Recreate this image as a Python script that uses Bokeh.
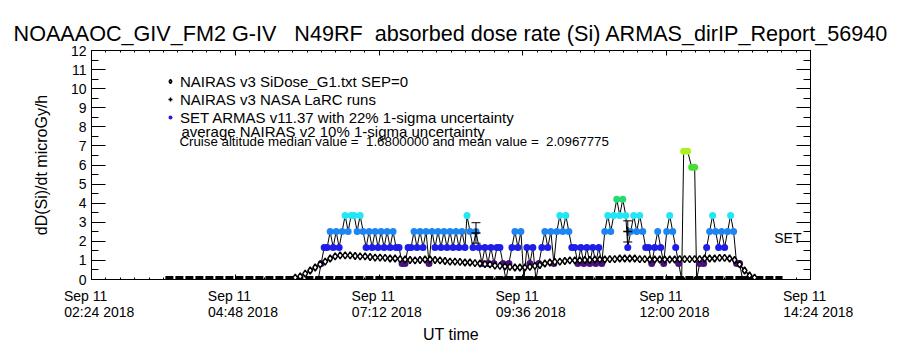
from bokeh.plotting import figure
from bokeh.models import (Range1d, FixedTicker, LinearAxis, Legend, LegendItem, Label,
                          ColumnDataSource, Whisker, TeeHead)
from bokeh.embed import file_html
from bokeh.resources import INLINE

FONT = "Liberation Sans"
NB = "\u00a0"

# ---------------- data (time = minutes of day UT, Sep 11 2018) ----------------
x_tick_minutes = [144, 288, 432, 576, 720, 864]
x_tick_dates = ["Sep 11", "Sep 11", "Sep 11", "Sep 11", "Sep 11", "Sep 11"]
x_tick_times = ["02:24 2018", "04:48 2018", "07:12 2018", "09:36 2018", "12:00 2018", "14:24 2018"]
y_ticks = [0, 1, 2, 3, 4, 5, 6, 7, 8, 9, 10, 11, 12]

# NAIRAS v3 SiDose (diamonds)
nairas_t = [348, 353, 358, 363, 368, 373, 378, 383, 388, 393, 398, 403, 408, 413, 418, 423,
            428, 433, 438, 443, 448, 453, 458, 463, 468, 473, 478, 483, 488, 493, 498, 503,
            508, 513, 518, 523, 528, 533, 538, 543, 548, 553, 558, 563, 568, 573, 578, 583,
            588, 593, 598, 603, 608, 613, 618, 623, 628, 633, 638, 643, 648, 653, 658, 663,
            668, 673, 678, 683, 688, 693, 698, 703, 708, 713, 718, 723, 728, 733, 738, 743,
            748, 753, 758, 763, 768, 773, 778, 783, 788, 793, 798, 803, 808]
nairas_dose = [0.10, 0.16, 0.31, 0.47, 0.63, 0.79, 0.94, 1.10, 1.21, 1.26, 1.26, 1.26, 1.23,
               1.21, 1.21, 1.18, 1.15, 1.15, 1.13, 1.10, 1.10, 1.07, 1.05, 1.02, 1.00, 1.02,
               1.05, 1.05, 1.02, 1.00, 0.97, 0.94, 0.94, 0.92, 0.89, 0.89, 0.86, 0.84, 0.81,
               0.79, 0.73, 0.71, 0.68, 0.66, 0.63, 0.63, 0.63, 0.66, 0.71, 0.76, 0.84, 0.89,
               0.92, 0.94, 0.97, 1.00, 1.00, 1.00, 1.02, 1.02, 1.05, 1.05, 1.05, 1.07, 1.07,
               1.10, 1.10, 1.10, 1.10, 1.07, 1.07, 1.05, 1.05, 1.05, 1.05, 1.05, 1.05, 1.07,
               1.07, 1.07, 1.07, 1.07, 1.10, 1.10, 1.10, 1.13, 1.13, 1.10, 1.02, 0.79, 0.47,
               0.21, 0.10]

# SET ARMAS v11.37 dose rate
armas_t = [371, 374, 377, 380, 383, 386, 389, 392, 395, 398, 401, 404, 407, 410, 413, 416,
           419, 422, 425, 428, 431, 434, 437, 440, 443, 446, 449, 452, 455, 458, 461, 464,
           467, 470, 473, 476, 479, 482, 485, 488, 491, 494, 497, 500, 503, 506, 509, 512,
           515, 518, 520, 523, 526, 529, 532, 535, 538, 541, 544, 547, 550, 553, 556, 559,
           562, 565, 568, 571, 574, 577, 580, 583, 586, 589, 592, 595, 598, 601, 604, 607,
           610, 613, 616, 619, 622, 625, 628, 631, 634, 637, 640, 643, 646, 649, 652, 655,
           658, 661, 664, 667, 670, 673, 676, 679, 681, 684, 687, 690, 693, 696, 699, 702,
           705, 708, 711, 714, 717, 720, 723, 726, 729, 732, 735, 737, 741, 745, 748, 750,
           753, 757, 760, 763, 766, 769, 772, 775, 778, 781, 784, 787, 790, 793, 796, 799]
armas_dose = [0, 0.84, 1.68, 1.68, 2.52, 1.68, 2.52, 1.68, 2.52, 3.36, 2.52, 3.36, 3.36, 2.52,
              3.36, 2.52, 1.68, 2.52, 1.68, 2.52, 1.68, 2.52, 1.68, 2.52, 1.68, 2.52, 1.68,
              1.68, 0.84, 0.84, 1.68, 1.68, 2.52, 1.68, 2.52, 1.68, 2.52, 0.84, 2.52, 1.68,
              2.52, 1.68, 2.52, 1.68, 2.52, 1.68, 2.52, 1.68, 2.52, 1.68, 3.36, 2.52, 1.68,
              2.52, 1.68, 0.84, 1.68, 0.84, 1.68, 0.84, 1.68, 1.68, 0.84, 0, 0.84, 1.68, 2.52,
              1.68, 2.52, 0, 1.68, 0.84, 1.68, 0, 0.84, 1.68, 2.52, 1.68, 2.52, 0.84, 2.52,
              3.36, 2.52, 3.36, 2.52, 1.68, 1.68, 0.84, 1.68, 0.84, 1.68, 0.84, 1.68, 0.84,
              1.68, 0.84, 2.52, 3.36, 2.52, 3.36, 4.2, 3.36, 4.2, 3.36, 1.68, 2.52, 3.36, 2.52,
              3.36, 2.52, 1.68, 1.68, 0.84, 1.68, 2.52, 1.68, 0.84, 2.52, 3.36, 2.52, 1.68,
              0.84, 0, 6.72, 6.72, 5.88, 5.88, 0, 0.84, 0.84, 1.68, 2.52, 3.36, 2.52, 1.68,
              2.52, 1.68, 2.52, 3.36, 2.52, 0.84, 0.84, 0, 0]

# NAIRAS v3 NASA LaRC runs with 22% 1-sigma uncertainty
larc_t = [529, 681]
larc_dose = [2.44, 2.52]
larc_unc = 0.22

# ground / on-runway record along the bottom
ground_t = [218, 836]
ground_dose = [0.08, 0.08]

level_colors = {0.0: "#000000", 0.84: "#4b1080", 1.68: "#1e1ee8", 2.52: "#1e86f2",
                3.36: "#20e6f6", 4.2: "#22dc6e", 5.88: "#44e034", 6.72: "#aaf024"}

title_txt = ("NOAAAOC_GIV_FM2 G-IV" + NB * 3 + "N49RF" + NB * 2 +
             "absorbed dose rate (Si) ARMAS_dirIP_Report_56940")
median_txt = ("Cruise altitude median value =" + NB * 2 + "1.6800000 and mean value =" +
              NB * 2 + "2.0967775")

# ---------------- figure ----------------
p = figure(width=900, height=350, output_backend="svg", toolbar_location=None,
           x_range=Range1d(144, 864), y_range=Range1d(0, 12),
           min_border_left=91, min_border_right=90, min_border_top=50, min_border_bottom=71,
           title=title_txt)
p.title.text_font = FONT
p.title.text_font_size = "21.6px"
p.title.text_font_style = "normal"
p.title.align = "center"
p.title.text_color = "black"
p.grid.visible = False
p.outline_line_color = "black"
p.outline_line_width = 1
p.background_fill_color = "white"
p.border_fill_color = "white"

x_minor = [144 + 14.4 * i for i in range(51)]
y_minor = [0.5 * i for i in range(25)]
xt = FixedTicker(ticks=x_tick_minutes, minor_ticks=x_minor)
yt = FixedTicker(ticks=y_ticks, minor_ticks=y_minor)


def style_axis(ax, major_in, minor_in):
    ax.axis_line_color = "black"
    ax.major_tick_line_color = "black"
    ax.minor_tick_line_color = "black"
    ax.major_tick_in = major_in
    ax.major_tick_out = 0
    ax.minor_tick_in = minor_in
    ax.minor_tick_out = 0
    ax.major_label_text_color = "black"
    ax.major_label_text_font = FONT
    ax.major_label_text_font_size = "14px"
    ax.axis_label_text_font = FONT
    ax.axis_label_text_font_style = "normal"
    ax.axis_label_text_color = "black"


def two_line(date, time):
    pad = NB * 4
    return pad + date + NB * 7 + "\n" + pad + time


xa = p.xaxis[0]
xa.ticker = xt
xa.major_label_overrides = {t: two_line(d, h)
                            for t, d, h in zip(x_tick_minutes, x_tick_dates, x_tick_times)}
style_axis(xa, 5, 2)
xa.major_label_standoff = 8
xa.major_label_text_line_height = 1.0
xa.axis_label = "UT time"
xa.axis_label_text_font_size = "16px"
xa.axis_label_standoff = 3

ya = p.yaxis[0]
ya.ticker = yt
style_axis(ya, 14, 7)
ya.major_label_standoff = 5
ya.axis_label = "dD(Si)/dt microGy/h"
ya.axis_label_text_font_size = "16px"
ya.axis_label_standoff = 18

top = LinearAxis(ticker=xt)
style_axis(top, 5, 2)
top.major_label_text_font_size = "0px"
top.major_label_standoff = 0
p.add_layout(top, "above")
right = LinearAxis(ticker=yt)
style_axis(right, 14, 7)
right.major_label_text_font_size = "0px"
right.major_label_standoff = 0
p.add_layout(right, "right")

# ground record
p.line(ground_t, ground_dose, line_color="black", line_width=4, line_dash="8 2")

# ARMAS
colors = [level_colors[v] for v in armas_dose]
src = ColumnDataSource(dict(t=armas_t, d=armas_dose, c=colors))
p.line("t", "d", source=src, line_color="black", line_width=1)
r_armas = p.scatter("t", "d", source=src, marker="circle", size=7, fill_color="c",
                    line_color="c", line_width=0)

# NAIRAS diamonds
p.line(nairas_t, nairas_dose, line_color="black", line_width=1.5)
r_nairas = p.scatter(nairas_t, nairas_dose, marker="diamond", size=7, fill_color="white",
                     line_color="black", line_width=1.5)

# LaRC runs
lo = [v * (1 - larc_unc) for v in larc_dose]
hi = [v * (1 + larc_unc) for v in larc_dose]
lsrc = ColumnDataSource(dict(t=larc_t, d=larc_dose, lo=lo, hi=hi))
p.add_layout(Whisker(source=lsrc, base="t", lower="lo", upper="hi", dimension="height",
                     line_color="black", line_width=1,
                     upper_head=TeeHead(size=9, line_color="black", line_width=1),
                     lower_head=TeeHead(size=9, line_color="black", line_width=1)))
r_larc = p.scatter("t", "d", source=lsrc, marker="cross", size=9, line_color="black",
                   line_width=1.5)

# legend
blue_idx = armas_dose.index(1.68)
legend = Legend(items=[
    LegendItem(label="NAIRAS v3 SiDose_G1.txt SEP=0", renderers=[r_nairas]),
    LegendItem(label="NAIRAS v3 NASA LaRC runs", renderers=[r_larc]),
    LegendItem(label="SET ARMAS v11.37 with 22% 1-sigma uncertainty", renderers=[r_armas],
               index=blue_idx),
], location=(74, 153))
legend.border_line_color = None
legend.background_fill_alpha = 0
legend.label_text_font = FONT
legend.label_text_font_size = "15px"
legend.label_text_color = "black"
legend.glyph_width = 10
legend.glyph_height = 18
legend.label_height = 18
legend.spacing = 0
legend.padding = 0
legend.margin = 0
legend.label_standoff = 5
p.add_layout(legend, "center")

p.add_layout(Label(x=234, y=7.78, text="average NAIRAS v2 10% 1-sigma uncertainty",
                   text_font=FONT, text_font_size="15px", text_baseline="middle",
                   text_color="black"))
p.add_layout(Label(x=232, y=7.25, text=median_txt,
                   text_font=FONT, text_font_size="13.3px", text_baseline="middle",
                   text_color="black"))
p.add_layout(Label(x=855, y=2.2, text="SET", text_align="right",
                   text_font=FONT, text_font_size="14px", text_baseline="middle",
                   text_color="black"))

open("out.html", "w").write(file_html(p, INLINE))
